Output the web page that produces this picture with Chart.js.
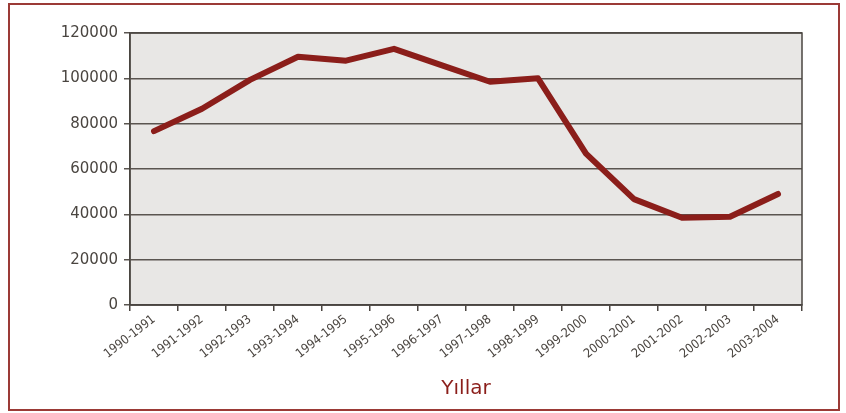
<!DOCTYPE html>
<html>
<head>
<meta charset="utf-8">
<script src="https://cdn.jsdelivr.net/npm/chart.js@4.4.0/dist/chart.umd.min.js"></script>
<style>
  html, body { margin: 0; padding: 0; background: #ffffff; }
  #wrap { position: relative; width: 846px; height: 413px; }
  #frame { position: absolute; left: 8px; top: 3px; width: 828px; height: 404px; border: 2px solid #9B3A36; box-sizing: content-box; pointer-events: none; }
  canvas { position: absolute; left: 0; top: 0; }
</style>
</head>
<body>
<div id="wrap">
  <canvas id="c" width="846" height="413"></canvas>
  <div id="frame"></div>
</div>
<script>
const categories = ["1990-1991","1991-1992","1992-1993","1993-1994","1994-1995","1995-1996","1996-1997","1997-1998","1998-1999","1999-2000","2000-2001","2001-2002","2002-2003","2003-2004"];
const values = [76700, 86600, 99300, 109500, 107800, 113000, 105700, 98500, 100000, 66800, 46700, 38500, 38900, 49000];
const yTicks = [0, 20000, 40000, 60000, 80000, 100000, 120000];
const xTitle = "Yıllar";

const plotBg = {
  id: 'plotBg',
  beforeDraw(chart) {
    const a = chart.chartArea, ctx = chart.ctx;
    ctx.save();
    ctx.fillStyle = '#E8E7E5';
    ctx.fillRect(a.left, a.top, a.right - a.left, a.bottom - a.top);
    ctx.restore();
  },
  afterDatasetsDraw(chart) {
    const a = chart.chartArea, ctx = chart.ctx;
    ctx.save();
    ctx.strokeStyle = '#4A4540';
    ctx.lineWidth = 1.5;
    ctx.strokeRect(a.left, a.top, a.right - a.left, a.bottom - a.top);
    ctx.restore();
  }
};

new Chart(document.getElementById('c'), {
  type: 'line',
  data: {
    labels: categories,
    datasets: [{
      data: values,
      borderColor: '#8B1E1A',
      borderWidth: 6,
      pointRadius: 0,
      tension: 0,
      borderCapStyle: 'round',
      borderJoinStyle: 'round',
      fill: false
    }]
  },
  options: {
    responsive: false,
    animation: false,
    devicePixelRatio: 1,
    layout: { padding: { left: 0, right: 44, top: 33, bottom: 10 } },
    plugins: { legend: { display: false }, tooltip: { enabled: false } },
    scales: {
      x: {
        offset: true,
        grid: { offset: true, drawOnChartArea: false, drawTicks: true, tickLength: 6, color: '#4A4540', lineWidth: 1.5 },
        border: { display: true, color: '#4A4540', width: 1.5 },
        ticks: {
          color: '#4A4540',
          font: { family: '"Liberation Sans Narrow", "DejaVu Sans Condensed", "Roboto", sans-serif', size: 12.5 },
          maxRotation: 38, minRotation: 38, autoSkip: false, padding: 1
        },
        title: {
          display: true, text: xTitle, color: '#8B1E1A',
          font: { family: '"DejaVu Sans", sans-serif', size: 20 },
          padding: { top: 0, bottom: 2 }
        },
        afterFit(scale) { scale.height = 98; }
      },
      y: {
        min: 0, max: 120000,
        afterBuildTicks(scale) { scale.ticks = yTicks.map(v => ({ value: v })); },
        grid: { color: '#5A5550', lineWidth: 1.5, tickLength: 6, drawTicks: true },
        border: { display: true, color: '#4A4540', width: 1.5 },
        ticks: {
          color: '#4A4540',
          font: { family: '"DejaVu Sans", sans-serif', size: 15 },
          padding: 6,
          callback: v => String(v)
        },
        afterFit(scale) { scale.width = 130; }
      }
    }
  },
  plugins: [plotBg]
});
</script>
</body>
</html>
